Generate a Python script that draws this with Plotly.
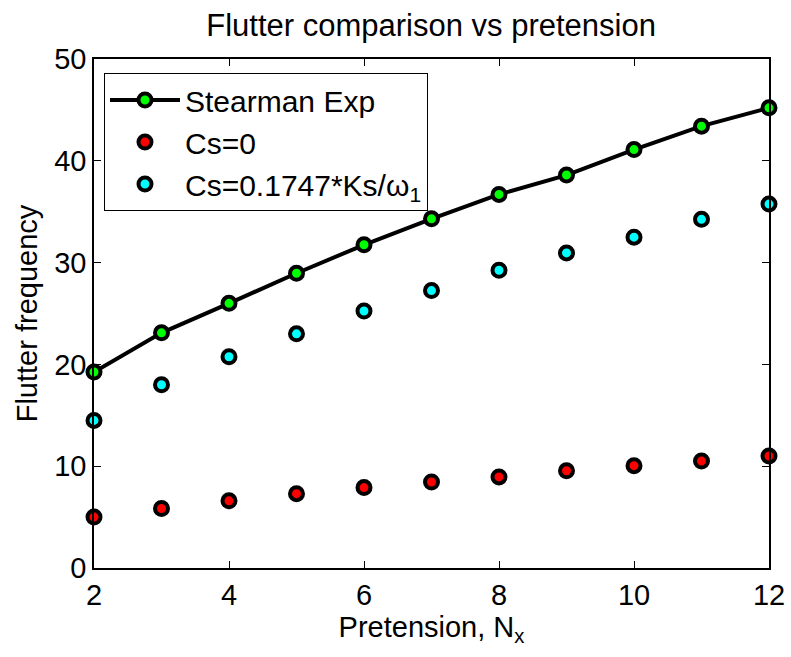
import plotly.graph_objects as go

pretension = [2, 3, 4, 5, 6, 7, 8, 9, 10, 11, 12]
stearman_exp = [19.25, 23.1, 26.0, 28.95, 31.75, 34.3, 36.7, 38.6, 41.1, 43.4, 45.2]
cs_zero = [5.0, 5.85, 6.6, 7.3, 7.9, 8.45, 8.95, 9.55, 10.05, 10.5, 11.0]
cs_damped = [14.5, 18.0, 20.75, 23.0, 25.25, 27.25, 29.25, 30.95, 32.5, 34.25, 35.75]

x_ticks = [2, 4, 6, 8, 10, 12]
y_ticks = [0, 10, 20, 30, 40, 50]

font_family = "Liberation Sans, Arial, Helvetica, sans-serif"

mk = dict(size=13, line=dict(color="black", width=4))

fig = go.Figure()
fig.add_trace(go.Scatter(
    x=pretension, y=stearman_exp, mode="lines+markers", name="Stearman Exp",
    line=dict(color="black", width=4),
    marker=dict(color="#00ff00", **mk), cliponaxis=False,
))
fig.add_trace(go.Scatter(
    x=pretension, y=cs_zero, mode="markers", name="Cs=0",
    marker=dict(color="#ff0000", **mk), cliponaxis=False,
))
fig.add_trace(go.Scatter(
    x=pretension, y=cs_damped, mode="markers", name="Cs=0.1747*Ks/ω<sub>1</sub>",
    marker=dict(color="#00ffff", **mk), cliponaxis=False,
))

axis_common = dict(
    showline=True, linecolor="black", linewidth=1.5, mirror="ticks",
    ticks="inside", ticklen=7, tickwidth=1, tickcolor="black",
    showgrid=False, zeroline=False, automargin=False,
    tickfont=dict(size=29, color="black", family=font_family),
)

fig.update_layout(
    width=791, height=657,
    margin=dict(l=94, r=22, t=59, b=89),
    paper_bgcolor="white", plot_bgcolor="white",
    font=dict(family=font_family, color="black"),
    title=dict(text="Flutter comparison vs pretension", x=0.545, xanchor="center",
               y=0.962, yanchor="middle", font=dict(size=31, color="black")),
    xaxis=dict(range=[2, 12], tickvals=x_ticks, title=dict(text="Pretension, N<sub>x</sub>",
               font=dict(size=29), standoff=0), **axis_common),
    yaxis=dict(range=[0, 50], tickvals=y_ticks, title=dict(text="Flutter frequency",
               font=dict(size=29), standoff=8), **axis_common),
    legend=dict(x=0.0148, y=0.9725, xanchor="left", yanchor="top",
                bordercolor="black", borderwidth=1, bgcolor="white",
                font=dict(size=30, color="black"), itemwidth=70,
                tracegroupgap=0),
    showlegend=True,
)

fig.write_html("out.html")
